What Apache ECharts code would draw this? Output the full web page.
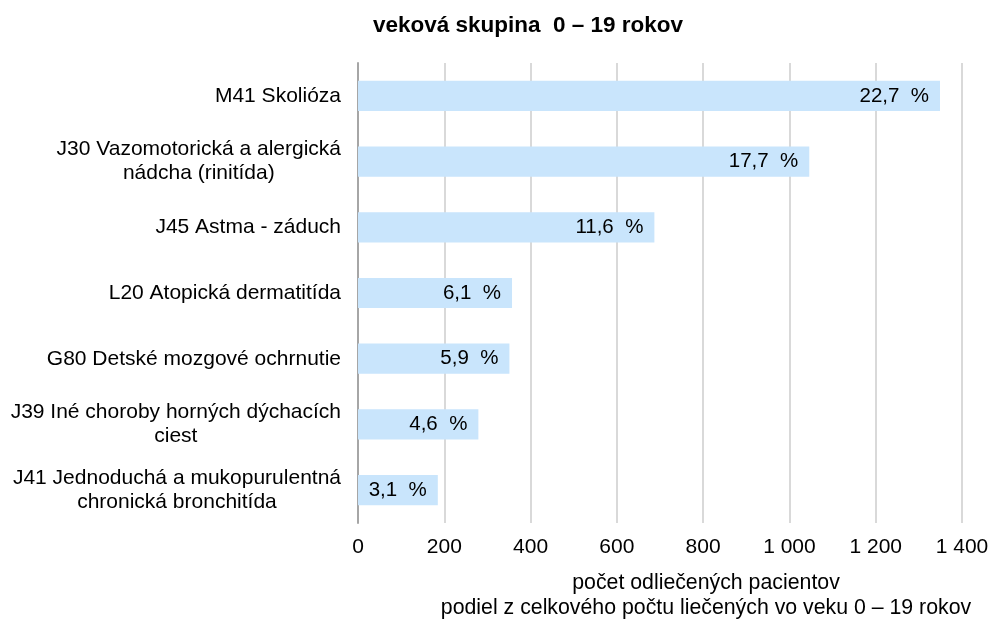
<!DOCTYPE html>
<html>
<head>
<meta charset="utf-8">
<script src="https://cdn.jsdelivr.net/npm/echarts@6/dist/echarts.min.js"></script>
<style>
  html, body { margin: 0; padding: 0; background: #ffffff; }
  #chart { width: 1003px; height: 629px; }
</style>
</head>
<body>
<div id="chart"></div>
<script>
// Diagnoses, top to bottom
var categories = [
  'M41 Skolióza',
  'J30 Vazomotorická a alergická\nnádcha (rinitída)',
  'J45 Astma - záduch',
  'L20 Atopická dermatitída',
  'G80 Detské mozgové ochrnutie',
  'J39 Iné choroby horných dýchacích\nciest',
  'J41 Jednoduchá a mukopurulentná\nchronická bronchitída'
];
// Number of treated patients
var patients = [1349, 1046, 687, 357, 351, 279, 185];
// Share of all treated patients aged 0–19 (%)
var shares = [22.7, 17.7, 11.6, 6.1, 5.9, 4.6, 3.1];
// Horizontal axis ticks
var axisMin = 0, axisMax = 1400, axisStep = 200;

var FONT = '"Liberation Sans", Arial, sans-serif';

function thousands(v) {
  return String(v).replace(/\B(?=(\d{3})+(?!\d))/g, ' ');
}

var chart = echarts.init(document.getElementById('chart'), null, { renderer: 'canvas' });

chart.setOption({
  animation: false,
  backgroundColor: '#ffffff',
  title: [
    {
      text: 'veková skupina  0 – 19 rokov',
      left: 523,
      top: 9,
      textAlign: 'center',
      textStyle: { fontFamily: FONT, fontSize: 22.5, fontWeight: 'bold', color: '#000000' }
    },
    {
      text: 'počet odliečených pacientov\npodiel z celkového počtu liečených vo veku 0 – 19 rokov',
      left: 701,
      top: 566,
      textAlign: 'center',
      textStyle: { fontFamily: FONT, fontSize: 21.3, fontWeight: 'normal', color: '#000000', lineHeight: 25 }
    }
  ],
  grid: { left: 358, right: 41, top: 63, bottom: 106, containLabel: false },
  xAxis: {
    type: 'value',
    min: axisMin,
    max: axisMax,
    interval: axisStep,
    axisLine: { show: false },
    axisTick: { show: false },
    axisLabel: {
      margin: 14,
      fontFamily: FONT,
      fontSize: 21,
      color: '#000000',
      formatter: function (v) { return thousands(v); }
    },
    splitLine: { show: true, lineStyle: { color: '#d9d9d9', width: 2 } }
  },
  yAxis: {
    type: 'category',
    data: categories,
    inverse: true,
    axisLine: { show: true, lineStyle: { color: '#a6a6a6', width: 2 } },
    axisTick: { show: false },
    axisLabel: {
      margin: 17,
      fontFamily: FONT,
      fontSize: 21,
      color: '#000000',
      formatter: function (v) {
        return v.split('\n').map(function (l) { return '{c|' + l + '}'; }).join('\n');
      },
      rich: {
        c: { align: 'center', fontFamily: FONT, fontSize: 21, color: '#000000', lineHeight: 24 }
      }
    },
    splitLine: { show: false }
  },
  series: [
    {
      type: 'bar',
      data: patients,
      barWidth: '46%',
      itemStyle: { color: '#c9e5fc' },
      label: {
        show: true,
        position: 'insideRight',
        distance: 11,
        fontFamily: FONT,
        fontSize: 20.5,
        color: '#000000',
        formatter: function (p) {
          return String(shares[p.dataIndex]).replace('.', ',') + '  %';
        }
      }
    }
  ]
});
</script>
</body>
</html>
